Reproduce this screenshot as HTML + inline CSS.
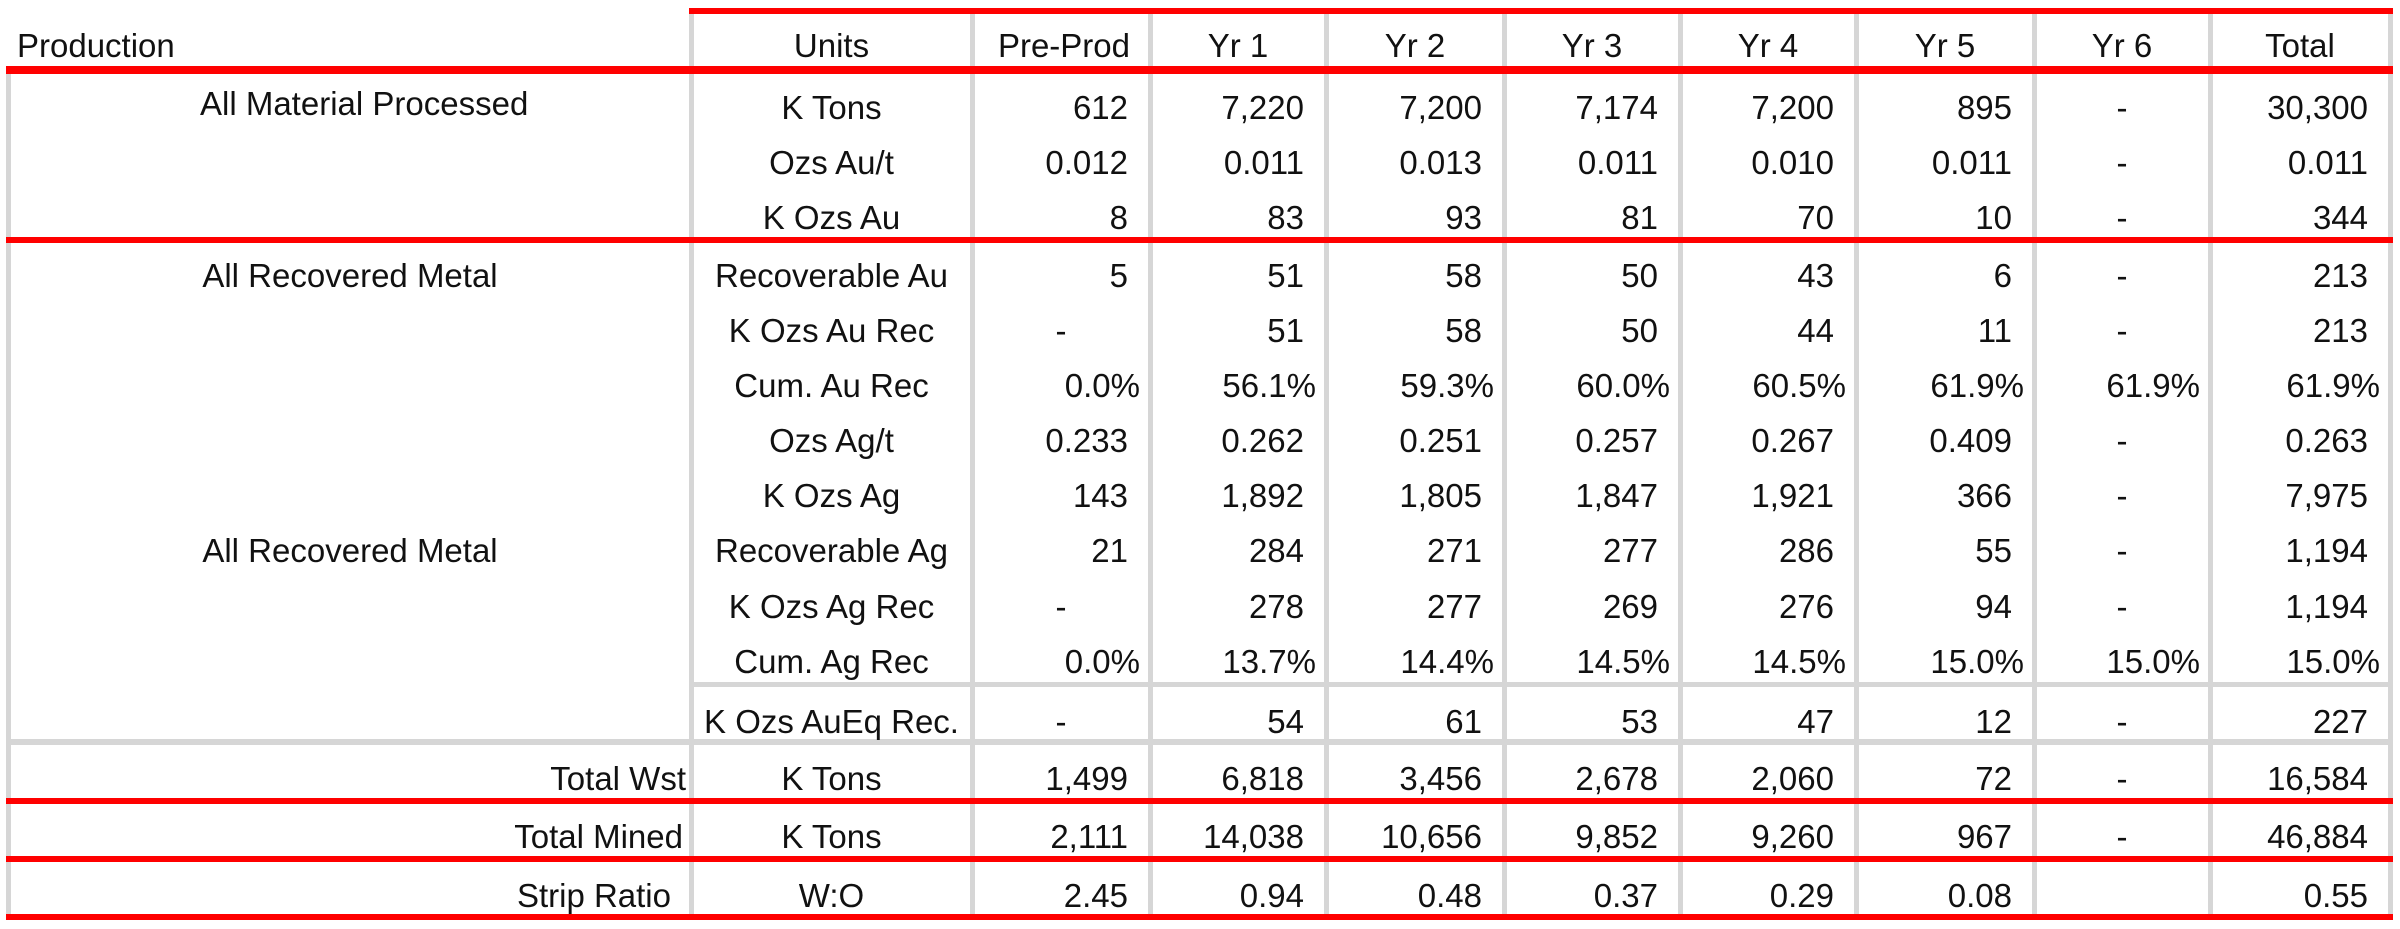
<!DOCTYPE html>
<html><head><meta charset="utf-8">
<style>
html,body{margin:0;padding:0;background:#fff;}
#t{position:relative;width:2400px;height:929px;overflow:hidden;font-family:"Liberation Sans Narrow","Liberation Sans",sans-serif;font-size:33px;color:#111;}
.c{position:absolute;white-space:nowrap;line-height:40px;height:40px;}
.r{position:absolute;background:#ff0000;}
.g{position:absolute;background:#d6d6d6;}
</style></head>
<body>
<div id="t"></div>
<script>
const cols=["Pre-Prod","Yr 1","Yr 2","Yr 3","Yr 4","Yr 5","Yr 6","Total"];
const units=["K Tons","Ozs Au/t","K Ozs Au","Recoverable Au","K Ozs Au Rec","Cum. Au Rec","Ozs Ag/t","K Ozs Ag","Recoverable Ag","K Ozs Ag Rec","Cum. Ag Rec","K Ozs AuEq Rec.","K Tons","K Tons","W:O"];
const rowVals=[
["612","7,220","7,200","7,174","7,200","895","-","30,300"],
["0.012","0.011","0.013","0.011","0.010","0.011","-","0.011"],
["8","83","93","81","70","10","-","344"],
["5","51","58","50","43","6","-","213"],
["-","51","58","50","44","11","-","213"],
["0.0%","56.1%","59.3%","60.0%","60.5%","61.9%","61.9%","61.9%"],
["0.233","0.262","0.251","0.257","0.267","0.409","-","0.263"],
["143","1,892","1,805","1,847","1,921","366","-","7,975"],
["21","284","271","277","286","55","-","1,194"],
["-","278","277","269","276","94","-","1,194"],
["0.0%","13.7%","14.4%","14.5%","14.5%","15.0%","15.0%","15.0%"],
["-","54","61","53","47","12","-","227"],
["1,499","6,818","3,456","2,678","2,060","72","-","16,584"],
["2,111","14,038","10,656","9,852","9,260","967","-","46,884"],
["2.45","0.94","0.48","0.37","0.29","0.08","","0.55"]];
const rowY=[108,163,218,276,331,386,441,496,551,607,662,722,779,837,896];
const colX=[972,1150,1326,1504,1680,1856,2034,2210,2390];
const T=document.getElementById('t');
function box(cls,x,y,w,h,txt,align,name){
  const d=document.createElement('div');
  d.className=cls;
  d.style.left=x+'px';d.style.top=y+'px';d.style.width=w+'px';
  if(h!=null)d.style.height=h+'px';
  if(txt!=null){d.textContent=txt;d.style.textAlign=align||'left';}
  
  
  T.appendChild(d);return d;
}
// grid lines
box('g',6,74,5,845,null,null,'left-border');
[691].concat(colX.slice(0,8)).forEach((x,i)=>{box('g',x-2,14,5,905,null,null,'column-divider');});
box('g',2388,14,5,905,null,null,'right-border');
box('g',691,682,1702,5,null,null,'row-divider');
box('g',8,739,2385,6,null,null,'section-divider');
// red lines
box('r',689,8,1704,6,null,null,'top-rule');
box('r',6,66,2387,8,null,null,'header-rule');
box('r',6,237,2387,6,null,null,'section-rule');
box('r',6,798,2387,6,null,null,'total-wst-rule');
box('r',6,856,2387,6,null,null,'total-mined-rule');
box('r',6,914,2387,6,null,null,'bottom-rule');
// header
box('c',17,26,400,null,'Production','left','production-header');
box('c',691,26,281,null,'Units','center','units-header');
cols.forEach((c,i)=>{
  const d=box('c',colX[i]+(i==0?0:0),26,colX[i+1]-colX[i]-(i==0?20:0),null,c,i==0?'right':'center','column-header');
  if(i==0){d.style.left=colX[0]+'px';}
});
// labels
box('c',200,84,300,null,'All Material Processed','center','label-all-material-processed');
box('c',200,256,300,null,'All Recovered Metal','center','label-all-recovered-metal-au');
box('c',200,531,300,null,'All Recovered Metal','center','label-all-recovered-metal-ag');
box('c',300,rowY[12]-20,386,null,'Total Wst','right','label-total-wst');
box('c',300,rowY[13]-20,383,null,'Total Mined','right','label-total-mined');
box('c',300,rowY[14]-20,371,null,'Strip Ratio','right','label-strip-ratio');
units.forEach((u,r)=>{box('c',691,rowY[r]-20,281,null,u,'center','unit-cell');});
rowVals.forEach((row,r)=>{
  row.forEach((v,i)=>{
    const pct=v.indexOf('%')>=0;
    const pad=v=='-'?0:(pct?10:22);
    const w=colX[i+1]-colX[i]-pad;
    box('c',colX[i],rowY[r]-20,w,null,v,v=='-'?'center':'right','value-cell');
  });
});
</script>
</body></html>
